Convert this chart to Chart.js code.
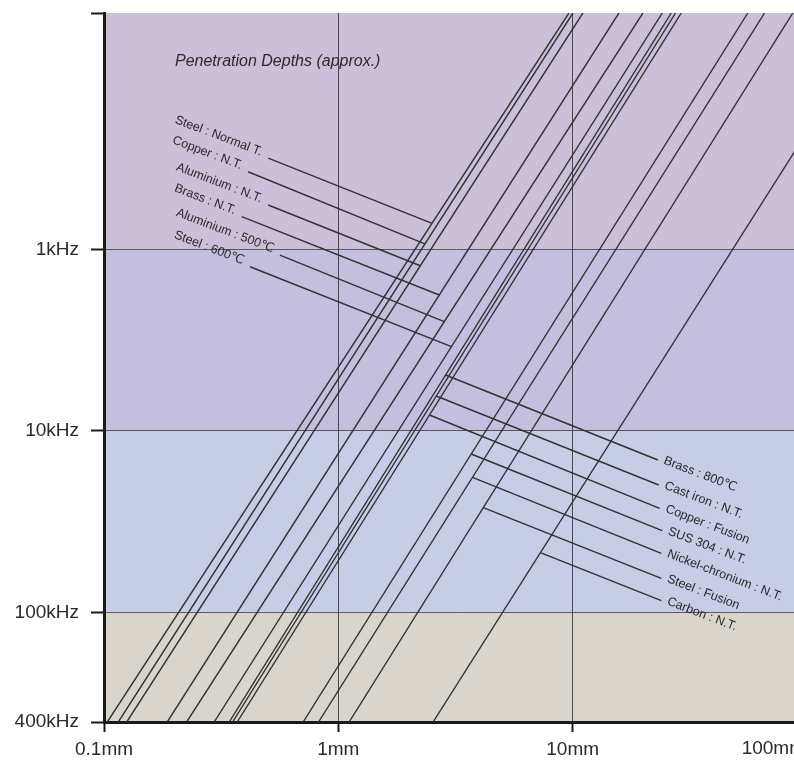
<!DOCTYPE html>
<html>
<head>
<meta charset="utf-8">
<script src="https://cdn.jsdelivr.net/npm/chart.js@4.4.1/dist/chart.umd.min.js"></script>
<style>
  html, body { margin: 0; padding: 0; background: #ffffff; overflow: hidden; }
  #wrap { width: 840px; height: 774px; }
</style>
</head>
<body>
<div id="wrap"><canvas id="c" width="840" height="774"></canvas></div>
<script>
// ---- data ----
const materials = ['Steel : Normal T.', 'Copper : N.T.', 'Aluminium : N.T.', 'Brass : N.T.',
  'Aluminium : 500\u2103', 'Steel : 600\u2103', 'Brass : 800\u2103', 'Cast iron : N.T.',
  'Copper : Fusion', 'SUS 304 : N.T.', 'Nickel-chronium : N.T.', 'Steel : Fusion', 'Carbon : N.T.'];
// penetration depth (mm) at the high-frequency end (400kHz)
const depthAtHighF = [0.1033, 0.1151, 0.1250, 0.1862, 0.2253, 0.2953, 0.3422, 0.3538, 0.3702, 0.7077, 0.8234, 1.112, 2.537];
// penetration depth (mm) at the low-frequency end (top of chart)
const depthAtLowF = [9.64, 10.03, 11.06, 15.75, 19.94, 24.13, 26.36, 27.49, 29.07, 55.92, 65.91, 86.98, 209.9];
const freqRange = [50, 400000]; // Hz, top to bottom
// label leaders: frequency where the leader meets the material line
const attachFreq = [719, 934, 1231, 1784, 2503, 3436, 4918, 6420, 8166, 13390, 17985, 26450, 46780];
// free end of each leader (where the label sits)
const labelDepth = [0.502, 0.412, 0.502, 0.387, 0.563, 0.420, 23.1, 23.3, 23.5, 24.1, 23.9, 23.9, 23.9];
const labelFreq = [315, 374, 570, 661, 1075, 1247, 14450, 19830, 26650, 35400, 47140, 64710, 85970];
const labelSide = ['left', 'left', 'left', 'left', 'left', 'left', 'right', 'right', 'right', 'right', 'right', 'right', 'right'];

const xTicks = [0.1, 1, 10, 100];
const xTickLabels = ['0.1mm', '1mm', '10mm', '100mm'];
const yTicks = [50, 1000, 10000, 100000, 400000];
const yTickLabels = ['', '1kHz', '10kHz', '100kHz', '400kHz'];
const bandEdges = [50, 1000, 10000, 100000, 400000];
const bandColors = ['#cbc0d7', '#c4bedf', '#c7cce7', '#dad5cc'];
const chartTitle = 'Penetration Depths (approx.)';

// ---- build ----
const LINE_COLOR = '#2e3431';
function depthOnLine(i, f) {
  const t = (Math.log(f) - Math.log(freqRange[0])) / (Math.log(freqRange[1]) - Math.log(freqRange[0]));
  return Math.exp(Math.log(depthAtLowF[i]) + t * (Math.log(depthAtHighF[i]) - Math.log(depthAtLowF[i])));
}
const datasets = [];
materials.forEach((m, i) => {
  datasets.push({
    label: m,
    data: [{ x: depthAtLowF[i], y: freqRange[0] }, { x: depthAtHighF[i], y: freqRange[1] }],
    showLine: true, borderColor: LINE_COLOR, borderWidth: 1.4, pointRadius: 0, fill: false
  });
  datasets.push({
    label: m + ' leader',
    data: [{ x: labelDepth[i], y: labelFreq[i] }, { x: depthOnLine(i, attachFreq[i]), y: attachFreq[i] }],
    showLine: true, borderColor: LINE_COLOR, borderWidth: 1.4, pointRadius: 0, fill: false
  });
});

const tickFontCss = '19px "Liberation Sans", Arial, sans-serif';

const bandsPlugin = {
  id: 'bands',
  beforeDraw(chart) {
    const { ctx, chartArea: a, scales: { y } } = chart;
    ctx.save();
    for (let i = 0; i < bandColors.length; i++) {
      const y0 = y.getPixelForValue(bandEdges[i]);
      const y1 = y.getPixelForValue(bandEdges[i + 1]);
      ctx.fillStyle = bandColors[i];
      ctx.fillRect(a.left, y0, a.right - a.left, y1 - y0);
    }
    ctx.restore();
  }
};

const labelsPlugin = {
  id: 'labels',
  afterDraw(chart) {
    const { ctx, chartArea: a, scales: { x, y } } = chart;
    ctx.save();
    ctx.fillStyle = '#2a2a2a';
    ctx.font = 'italic 16px "Liberation Sans", Arial, sans-serif';
    ctx.textAlign = 'left';
    ctx.textBaseline = 'alphabetic';
    ctx.fillText(chartTitle, a.left + 71, a.top + 53);
    const ang = 21 * Math.PI / 180;
    ctx.font = '12.5px "Liberation Sans", "DejaVu Sans", Arial, sans-serif';
    ctx.textBaseline = 'middle';
    materials.forEach((m, i) => {
      const px = x.getPixelForValue(labelDepth[i]);
      const py = y.getPixelForValue(labelFreq[i]);
      ctx.save();
      ctx.translate(px, py);
      ctx.rotate(ang);
      if (labelSide[i] === 'left') {
        ctx.textAlign = 'right';
        ctx.fillText(m, -8, -3);
      } else {
        ctx.textAlign = 'left';
        ctx.fillText(m, 6, -2);
      }
      ctx.restore();
    });
    // last depth tick label sits left of its tick, at the page edge
    ctx.font = tickFontCss;
    ctx.textAlign = 'right';
    ctx.textBaseline = 'middle';
    ctx.fillText(xTickLabels[xTickLabels.length - 1], x.getPixelForValue(xTicks[xTicks.length - 1]) - 2, a.bottom + 27);
    ctx.restore();
  }
};

const tickFont = { family: '"Liberation Sans", Arial, sans-serif', size: 19 };

new Chart(document.getElementById('c'), {
  type: 'scatter',
  data: { datasets },
  plugins: [bandsPlugin, labelsPlugin],
  options: {
    responsive: false,
    animation: false,
    devicePixelRatio: 1,
    layout: { padding: { top: 13, right: 33, left: 0, bottom: 0 } },
    plugins: { legend: { display: false }, tooltip: { enabled: false }, title: { display: false } },
    scales: {
      x: {
        type: 'logarithmic', min: 0.1, max: 100,
        afterBuildTicks(s) { s.ticks = xTicks.map(v => ({ value: v })); },
        afterFit(s) { s.height = 52; s.paddingLeft = 0; s.paddingRight = 0; },
        ticks: {
          autoSkip: false, maxRotation: 0, padding: 6, color: '#2a2a2a', font: tickFont,
          callback: (v, i) => (i === xTicks.length - 1 ? '' : xTickLabels[i])
        },
        grid: {
          color: (c) => (c.tick && (c.tick.value === 1 || c.tick.value === 10)) ? 'rgba(50,50,50,0.85)' : 'rgba(0,0,0,0)',
          lineWidth: 1, tickColor: '#1a1a1a', tickWidth: 2, tickLength: 10
        },
        border: { display: true, color: '#1a1a1a', width: 3 }
      },
      y: {
        type: 'logarithmic', min: 50, max: 400000, reverse: true,
        afterBuildTicks(s) { s.ticks = yTicks.map(v => ({ value: v })); },
        afterFit(s) { s.width = 104; s.paddingTop = 0; s.paddingBottom = 0; },
        ticks: {
          autoSkip: false, padding: 12, color: '#2a2a2a', font: tickFont,
          callback: (v, i) => yTickLabels[i]
        },
        grid: {
          color: (c) => (c.tick && c.tick.value > 50 && c.tick.value < 400000) ? 'rgba(60,60,60,0.8)' : 'rgba(0,0,0,0)',
          lineWidth: 1, tickColor: '#1a1a1a', tickWidth: 2, tickLength: 13
        },
        border: { display: true, color: '#1a1a1a', width: 3 }
      }
    }
  }
});
</script>
</body>
</html>
